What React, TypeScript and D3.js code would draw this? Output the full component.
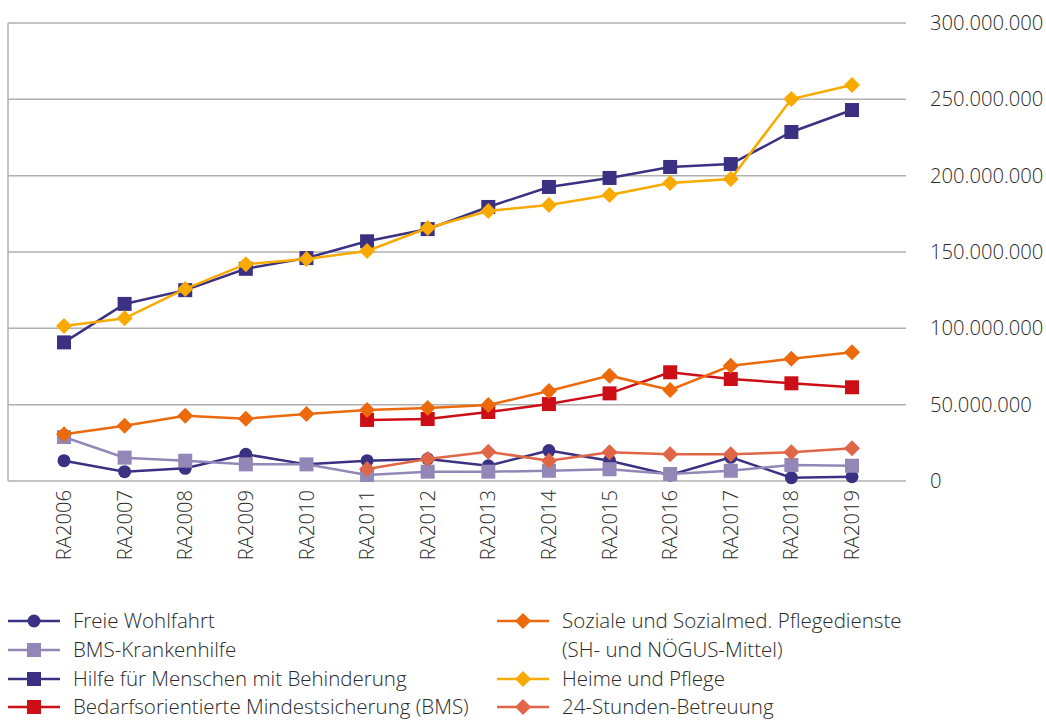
import React from "react";
import * as d3 from "d3";

const categories = [
  "RA2006", "RA2007", "RA2008", "RA2009", "RA2010", "RA2011", "RA2012",
  "RA2013", "RA2014", "RA2015", "RA2016", "RA2017", "RA2018", "RA2019",
];

const freieWohlfahrt = [13.3, 6.1, 8.3, 17.5, 10.9, 13.3, 14.4, 10.0, 19.9, 13.3, 3.9, 15.5, 2.2, 2.8];
const bmsKrankenhilfe = [28.8, 15.3, 13.3, 10.9, 10.9, 3.9, 6.1, 6.1, 6.7, 7.7, 4.6, 6.7, 10.5, 10.0];
const hilfeBehinderung = [90.8, 116, 125, 139, 146, 157, 165, 179.5, 192.6, 198.5, 205.7, 207.6, 228.6, 243];
const bms = [null, null, null, null, null, 40.0, 40.6, 45.2, 50.4, 57.4, 71.2, 66.8, 64.0, 61.4];
const sozialePflegedienste = [30.6, 36.2, 42.8, 40.8, 43.9, 46.5, 47.8, 49.8, 59.0, 69.0, 59.6, 75.5, 80.0, 84.3];
const heimePflege = [101.5, 106.6, 125.8, 142, 145.4, 150.7, 165.7, 176.9, 180.8, 187.3, 195.2, 197.8, 250.2, 259.4];
const betreuung24 = [null, null, null, null, null, 7.9, 14.4, 19.2, 13.3, 18.8, 17.5, 17.5, 18.8, 21.4];

const yTicks = [0, 50, 100, 150, 200, 250, 300];

type Marker = "circle" | "square" | "diamond";
interface Series {
  name: string[];
  values: (number | null)[];
  color: string;
  marker: Marker;
}

const series: Series[] = [
  { name: ["Freie Wohlfahrt"], values: freieWohlfahrt, color: "#3b3183", marker: "circle" },
  { name: ["BMS-Krankenhilfe"], values: bmsKrankenhilfe, color: "#9387b7", marker: "square" },
  { name: ["Hilfe für Menschen mit Behinderung"], values: hilfeBehinderung, color: "#3b3183", marker: "square" },
  { name: ["Bedarfsorientierte Mindestsicherung (BMS)"], values: bms, color: "#cc0e16", marker: "square" },
  { name: ["Soziale und Sozialmed. Pflegedienste", "(SH- und NÖGUS-Mittel)"], values: sozialePflegedienste, color: "#ec6a0c", marker: "diamond" },
  { name: ["Heime und Pflege"], values: heimePflege, color: "#f8aa00", marker: "diamond" },
  { name: ["24-Stunden-Betreuung"], values: betreuung24, color: "#df6748", marker: "diamond" },
];

const W = 1046;
const H = 722;
const plotLeft = 8;
const plotRight = 906;
const plotTop = 23;
const plotBottom = 481;
const FONT = "'Open Sans', sans-serif";
const TEXT = "#2a2a2a";

const x = d3.scalePoint<string>().domain(categories).range([64, 852]);
const y = d3.scaleLinear().domain([0, 300]).range([plotBottom, plotTop]);
const fmt = (v: number) => d3.format(",")(v * 1e6).replace(/,/g, ".");

function MarkerShape({ type, cx, cy, color }: { type: Marker; cx: number; cy: number; color: string }) {
  if (type === "circle") return <circle cx={cx} cy={cy} r={6.5} fill={color} />;
  if (type === "square") return <rect x={cx - 7} y={cy - 7} width={14} height={14} fill={color} />;
  const s = 8;
  return <path d={`M${cx},${cy - s}L${cx + s},${cy}L${cx},${cy + s}L${cx - s},${cy}Z`} fill={color} />;
}

export default function App() {
  const line = d3
    .line<number | null>()
    .defined((d) => d !== null)
    .x((_, i) => x(categories[i]) as number)
    .y((d) => y(d as number));

  const legendLeft = series.slice(0, 4);
  const legendRight = series.slice(4);
  const rowY = [621, 650, 679, 707];

  const legendItem = (s: Series, lx: number, ly: number, key: string) => (
    <g key={key}>
      <line x1={lx} x2={lx + 52} y1={ly} y2={ly} stroke={s.color} strokeWidth={2.5} />
      <MarkerShape type={s.marker} cx={lx + 26} cy={ly} color={s.color} />
      {s.name.map((t, j) => (
        <text key={j} x={lx + 65} y={ly + j * 29} dy="0.35em" fontSize={20.5} fill={TEXT} fontFamily={FONT} fontWeight={300}>
          {t}
        </text>
      ))}
    </g>
  );

  let rIdx = 0;
  return (
    <svg width={W} height={H} style={{ position: "absolute", left: 0, top: 0, background: "#fff" }}>
      {yTicks.map((t) => (
        <g key={t}>
          <line x1={plotLeft} x2={plotRight} y1={y(t)} y2={y(t)} stroke="#b0b0b0" strokeWidth={1.5} />
          <text x={930} y={y(t)} dy="0.35em" fontSize={20.2} fill={TEXT} fontFamily={FONT} fontWeight={300}>
            {fmt(t)}
          </text>
        </g>
      ))}
      <line x1={plotLeft} x2={plotLeft} y1={plotTop} y2={plotBottom} stroke="#b0b0b0" strokeWidth={1.5} />

      {categories.map((c) => (
        <text
          key={c}
          transform={`translate(${x(c)},${plotBottom + 9}) rotate(-90)`}
          textAnchor="end"
          dy="0.35em"
          fontSize={20.2}
          fill={TEXT}
          fontFamily={FONT}
          fontWeight={300}
        >
          {c}
        </text>
      ))}

      {series.map((s, i) => (
        <g key={i}>
          <path d={line(s.values) || ""} fill="none" stroke={s.color} strokeWidth={2.5} />
          {s.values.map((v, j) =>
            v === null ? null : (
              <MarkerShape key={j} type={s.marker} cx={x(categories[j]) as number} cy={y(v)} color={s.color} />
            )
          )}
        </g>
      ))}

      {legendLeft.map((s, i) => legendItem(s, 8, rowY[i], "l" + i))}
      {legendRight.map((s, i) => {
        const item = legendItem(s, 497, rowY[rIdx], "r" + i);
        rIdx += s.name.length;
        return item;
      })}
    </svg>
  );
}
